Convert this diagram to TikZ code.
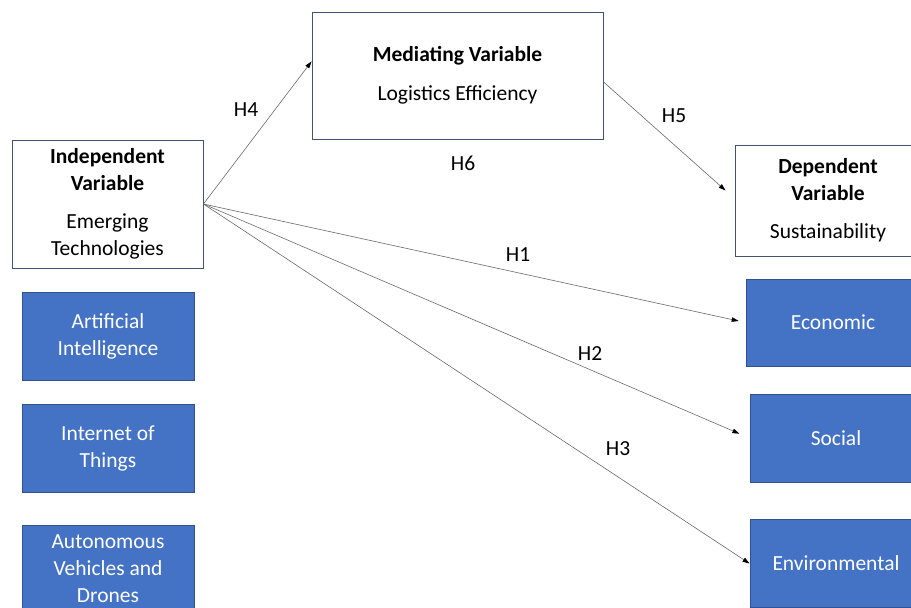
\documentclass[tikz,border=0pt]{standalone}
\usepackage{fontspec}
\setmainfont{Carlito}
\usetikzlibrary{arrows.meta,calc}
\definecolor{boxline}{RGB}{68,84,106}
\definecolor{blockfill}{RGB}{68,114,196}
\definecolor{blockline}{RGB}{47,82,143}
\definecolor{linkgray}{RGB}{105,105,105}

\begin{document}
\begin{tikzpicture}[x=1pt,y=-1pt,
    every node/.style={font=\fontsize{21.5}{27}\selectfont},
    varbox/.style={draw=boxline,fill=white,line width=0.9pt,align=center,inner sep=0pt},
    dimbox/.style={draw=blockline,fill=blockfill,text=white,line width=0.9pt,align=center,
        inner sep=0pt,minimum width=172pt,minimum height=88pt},
    link/.style={draw=linkgray,line width=0.6pt,-{Triangle[length=7pt,width=4.5pt,color=black]}}]
    \useasboundingbox (0,0) rectangle (911,608);
    \clip (0,0) rectangle (911,608);

    % variable boxes
    \node[varbox,minimum width=191pt,minimum height=128pt] (indep) at (107.5,204)
        {\textbf{Independent}\\\textbf{Variable}\\[11pt]Emerging\\Technologies};
    \node[varbox,minimum width=291pt,minimum height=127pt] (med) at (457.5,75.5)
        {\textbf{Mediating Variable}\\[12pt]Logistics Efficiency};
    \node[varbox,minimum width=186pt,minimum height=111pt] (dep) at (828,200.5)
        {\textbf{Dependent}\\\textbf{Variable}\\[11pt]Sustainability};

    % emerging technologies
    \node[dimbox] (ai) at (108,336) {Artificial\\Intelligence};
    \node[dimbox] (iot) at (108,448) {Internet of\\Things};
    \node[dimbox] (avd) at (108,569) {Autonomous\\Vehicles and\\Drones};

    % sustainability dimensions
    \node[dimbox,minimum width=174pt,minimum height=87pt] (econ) at (833,322.5) {Economic};
    \node[dimbox] (social) at (836,438) {Social};
    \node[dimbox] (env) at (836,563.5) {Environmental};

    \coordinate (medin) at ($(med.north west)!0.39!(med.south west)$);
    \coordinate (medout) at ($(med.north east)!0.55!(med.south east)$);
    \coordinate (depin) at ($(dep.west)+(-9,-10)$);

    \draw[link] (indep.east) -- (medin);
    \draw[link] (medout) -- (depin);
    \draw[link,shorten >=7pt] (indep.east) -- (econ.west);
    \draw[link,shorten >=11pt] (indep.east) -- (social.west);
    \draw[link] (indep.east) -- (env.west);

    \node (h4) at (246,110) {H4};
    \node (h5) at (674,116) {H5};
    \node (h6) at (463,163) {H6};
    \node (h1) at (518,255) {H1};
    \node (h2) at (590,354) {H2};
    \node (h3) at (618,449) {H3};
\end{tikzpicture}
\end{document}
